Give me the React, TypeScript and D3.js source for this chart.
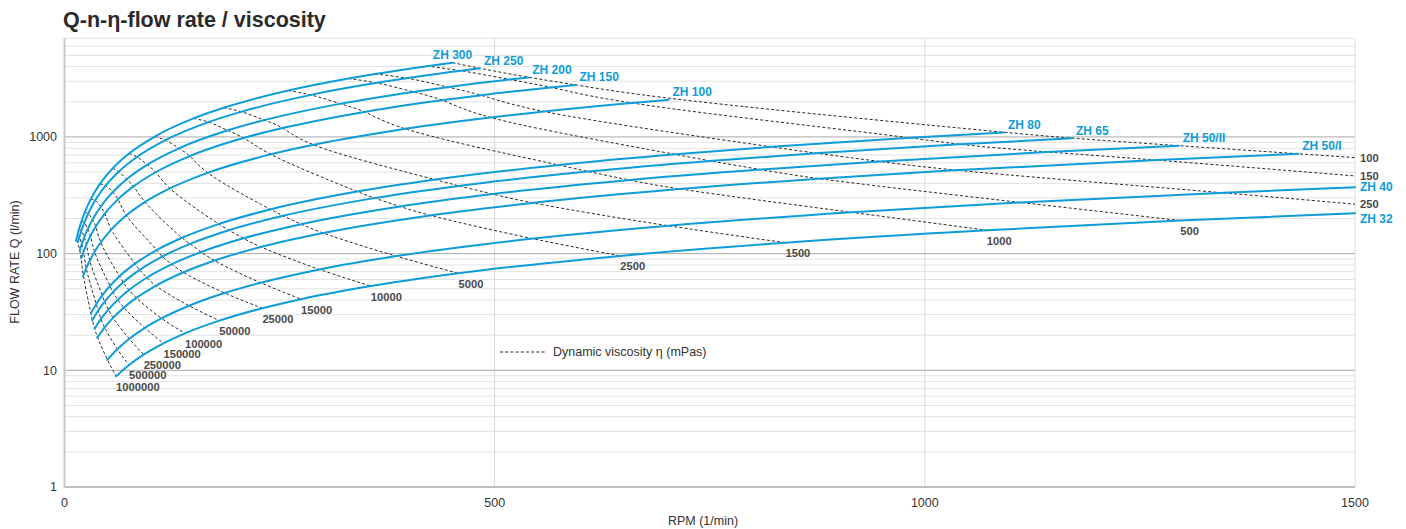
import React from "react";
import * as d3 from "d3";

// ---- data ----
const pumpNames = ["ZH 300", "ZH 250", "ZH 200", "ZH 150", "ZH 100", "ZH 80", "ZH 65", "ZH 50/II", "ZH 50/I", "ZH 40", "ZH 32"];
// flow per revolution (l/rev)
const pumpDisplacement = [9.6, 8.0, 6.0, 4.7, 2.96, 1.0, 0.83, 0.65, 0.5, 0.247, 0.148];
// maximum speed drawn for each pump (1/min)
const pumpEndRpm = [451, 483, 539, 594, 702, 1092, 1171, 1295, 1434, 1500, 1500];

const viscosities = [100, 150, 250, 500, 1000, 1500, 2500, 5000, 10000, 15000, 25000, 50000, 100000, 150000, 250000, 500000, 1000000];
// max speed (1/min) of each pump at each viscosity; null = beyond 1500
const maxRpm: (number | null)[][] = [
  [451, 483, 539, 594, 702, 1092, 1171, 1295, 1434, null, null],
  [421, 463, 517, 568, 646, 988, 1035, 1142, 1270, null, null],
  [361, 401, 445, 487, 545, 822, 873, 948, 1029, 1348, null],
  [330, 365, 405, 443, 483, 710, 750, 809, 872, 1111, 1297],
  [260, 288, 320, 352, 386, 575, 608, 657, 711, 915, 1072],
  [185, 207, 232, 256, 281, 431, 458, 498, 541, 699, 838],
  [150, 169, 189, 210, 236, 340, 360, 390, 423, 542, 646],
  [105, 118, 133, 147, 163, 239, 254, 275, 299, 384, 458],
  [75, 85, 96, 107, 120, 179, 191, 208, 227, 295, 356],
  [56, 63.6, 72, 81, 92, 136, 146, 159, 173, 227, 275],
  [41, 48.7, 56, 63, 70, 108, 113, 125, 137, 185, 230],
  [30.4, 36.3, 42, 47.4, 53, 82, 87, 96, 105, 144, 180],
  [23.5, 28, 32.5, 36.8, 41, 64, 68, 75, 83, 112, 140],
  [19.6, 23.4, 27, 30.6, 34, 53, 56, 62, 68.5, 93, 115],
  [16.8, 20, 23, 25.8, 28.6, 44, 46.4, 51, 56, 75, 92],
  [15, 17.6, 20, 22.4, 24.7, 37, 39, 42.4, 46.3, 61, 75],
  [13.4, 15.7, 17.7, 19.5, 21.5, 30.8, 32.3, 35.1, 38.1, 49.7, 60],
];
// flow where a viscosity line leaves the chart at 1500 1/min (first three lines)
const viscosityEdgeFlow = [665, 463, 265];

const xTicks = [0, 500, 1000, 1500];
const yTicks = [1, 10, 100, 1000];
const rpmDomain = [0, 1500];
const flowDomain = [1, 7000];

const title = "Q-n-η-flow rate / viscosity";
const xTitle = "RPM (1/min)";
const yTitle = "FLOW RATE Q (l/min)";
const legendText = "Dynamic viscosity η (mPas)";

const BLUE = "#0d9dd8";
const FONT = "'Liberation Sans', Arial, Helvetica, sans-serif";

export default function App() {
  const W = 1406, H = 529;
  const x = d3.scaleLinear().domain(rpmDomain).range([64.5, 1355]);
  const y = d3.scaleLog().domain(flowDomain).range([487, 38.3]);
  const [x0, x1] = x.range();
  const [yb, yt] = y.range();

  const minor: number[] = [];
  for (let d = 1; d <= 1000; d *= 10) {
    for (let k = 2; k <= 9; k++) {
      const v = k * d;
      if (v <= 7000) minor.push(v);
    }
  }

  const pumpLine = d3
    .line<[number, number]>()
    .x((d) => x(d[0]))
    .y((d) => y(d[1]))
    .curve(d3.curveMonotoneX);
  const viscLine = d3
    .line<[number, number]>()
    .x((d) => x(d[0]))
    .y((d) => y(d[1]))
    .curve(d3.curveBasis);

  const pumpPaths = pumpNames.map((_, p) => {
    const rpms = new Set<number>();
    maxRpm.forEach((row) => {
      const r = row[p];
      if (r != null && r <= pumpEndRpm[p]) rpms.add(r);
    });
    rpms.add(pumpEndRpm[p]);
    return Array.from(rpms)
      .sort((a, b) => a - b)
      .map((r) => [r, r * pumpDisplacement[p]] as [number, number]);
  });

  const viscPaths = viscosities.map((_, v) => {
    const pts: [number, number][] = [];
    maxRpm[v].forEach((r, p) => {
      if (r != null) pts.push([r, r * pumpDisplacement[p]]);
    });
    if (v < viscosityEdgeFlow.length) pts.push([1500, viscosityEdgeFlow[v]]);
    return pts;
  });

  return (
    <svg width={W} height={H} style={{ position: "absolute", left: 0, top: 0, background: "#fff" }} fontFamily={FONT}>
      <text x={63} y={27} fontSize={21.5} fontWeight="bold" fill="#2a2a2a">{title}</text>

      {minor.map((v) => (
        <line key={"m" + v} x1={x0} x2={x1} y1={y(v)} y2={y(v)} stroke="#e2e2e2" strokeWidth={1} />
      ))}
      {xTicks.slice(1).map((t) => (
        <line key={"vx" + t} x1={x(t)} x2={x(t)} y1={yt} y2={yb} stroke="#dcdcdc" strokeWidth={1} />
      ))}
      {yTicks.slice(1).map((t) => (
        <line key={"M" + t} x1={x0} x2={x1} y1={y(t)} y2={y(t)} stroke="#aaaaaa" strokeWidth={1} />
      ))}
      <line x1={x0} x2={x0} y1={yt} y2={yb} stroke="#c8c8c8" strokeWidth={2} />
      <line x1={x0} x2={x1} y1={yb} y2={yb} stroke="#a8a8a8" strokeWidth={1.5} />

      {yTicks.map((t) => (
        <text key={"yt" + t} x={57} y={y(t)} dy="0.35em" textAnchor="end" fontSize={12.5} fill="#333">{t}</text>
      ))}
      {xTicks.map((t) => (
        <text key={"xt" + t} x={x(t)} y={507} textAnchor="middle" fontSize={12.5} fill="#333">{t}</text>
      ))}
      <text x={703} y={525} textAnchor="middle" fontSize={12.5} fill="#333">{xTitle}</text>
      <text transform={`translate(19,262) rotate(-90)`} textAnchor="middle" fontSize={12.5} fill="#333">{yTitle}</text>

      {viscPaths.map((pts, i) => (
        <path key={"v" + i} d={viscLine(pts) || ""} fill="none" stroke="#2a2a2a" strokeWidth={1} strokeDasharray="3 2.2" />
      ))}
      {pumpPaths.map((pts, i) => (
        <path key={"p" + i} d={pumpLine(pts) || ""} fill="none" stroke={BLUE} strokeWidth={2} strokeLinecap="round" />
      ))}

      {viscPaths.map((pts, i) => {
        const last = pts[pts.length - 1];
        const atEdge = i < viscosityEdgeFlow.length;
        return (
          <text
            key={"vl" + i}
            x={atEdge ? x(1500) + 5 : x(last[0])}
            y={atEdge ? y(last[1]) : y(last[1]) + 10.5}
            dy="0.35em"
            fontSize={11.2}
            fontWeight="bold"
            fill="#4a4a4a"
          >
            {viscosities[i]}
          </text>
        );
      })}
      {pumpPaths.map((pts, i) => {
        const last = pts[pts.length - 1];
        const atEdge = pumpEndRpm[i] >= 1500;
        const px = x(last[0]);
        const py = y(last[1]);
        if (atEdge) {
          return (
            <text key={"pl" + i} x={px + 5} y={i === pumpNames.length - 1 ? py + 6 : py} dy="0.35em" fontSize={12} fontWeight="bold" fill={BLUE}>
              {pumpNames[i]}
            </text>
          );
        }
        return (
          <text key={"pl" + i} x={i === 0 ? px : px + 4} y={py - 8} dy="0.35em" textAnchor={i === 0 ? "middle" : "start"} fontSize={12} fontWeight="bold" fill={BLUE}>
            {pumpNames[i]}
          </text>
        );
      })}

      <line x1={500} x2={546} y1={352} y2={352} stroke="#2a2a2a" strokeWidth={1} strokeDasharray="3 2.2" />
      <text x={553} y={352} dy="0.35em" fontSize={12.5} fill="#333">{legendText}</text>
    </svg>
  );
}
